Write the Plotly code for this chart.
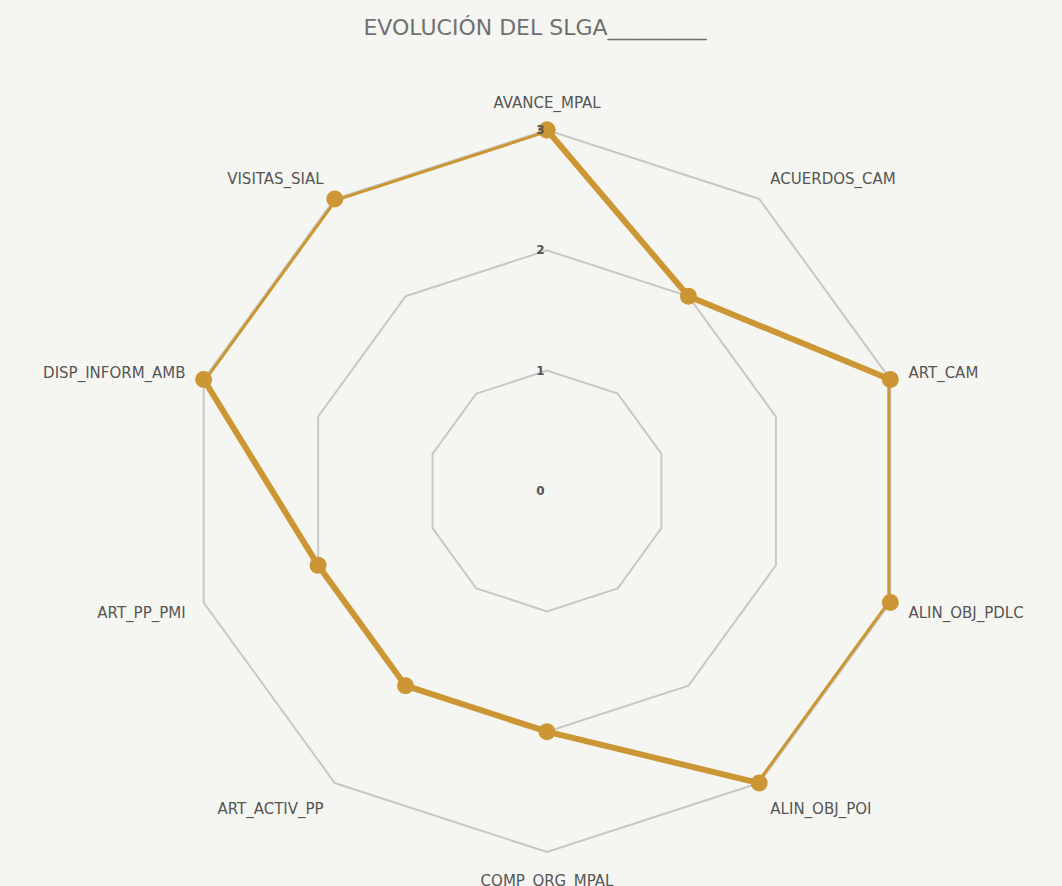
import plotly.graph_objects as go

categories = ["AVANCE_MPAL", "ACUERDOS_CAM", "ART_CAM", "ALIN_OBJ_PDLC", "ALIN_OBJ_POI",
              "COMP_ORG_MPAL", "ART_ACTIV_PP", "ART_PP_PMI", "DISP_INFORM_AMB", "VISITAS_SIAL"]
values = [3, 2, 3, 3, 3, 2, 2, 2, 3, 3]
radial_ticks = [0, 1, 2, 3]
title_text = "EVOLUCIÓN DEL SLGA_________"

W, H = 1062, 886
cx, cy, R = 547, 491, 361

line_color = "#CB9633"
grid_color = "#C8C8C8"
bg = "#F5F5F1"
font_family = "DejaVu Sans, sans-serif"

fig = go.Figure()
fig.add_trace(go.Scatterpolar(
    r=values + values[:1],
    theta=categories + categories[:1],
    mode="lines+markers",
    line=dict(color=line_color, width=6),
    marker=dict(color=line_color, size=17),
    showlegend=False,
    hoverinfo="r+theta",
))

fig.update_layout(
    width=W, height=H,
    paper_bgcolor=bg, plot_bgcolor=bg,
    margin=dict(l=0, r=0, t=0, b=0),
    title=dict(text=title_text, x=535 / W, xanchor="center", y=1 - 27 / H, yanchor="middle",
               font=dict(family=font_family, size=22, color="#707070")),
    font=dict(family=font_family),
    polar=dict(
        bgcolor=bg,
        gridshape="linear",
        domain=dict(x=[(cx - R) / W, (cx + R) / W],
                    y=[(H - cy - R) / H, (H - cy + R) / H]),
        radialaxis=dict(
            range=[0, 3],
            tickvals=radial_ticks,
            ticktext=[str(t) for t in radial_ticks],
            angle=90,
            tickangle=90,
            side="counterclockwise",
            showline=False,
            ticks="",
            showgrid=True,
            gridcolor=grid_color,
            gridwidth=2,
            layer="above traces",
            tickfont=dict(size=12, color="#555555", family=font_family, weight="bold"),
        ),
        angularaxis=dict(
            direction="clockwise",
            rotation=90,
            showgrid=False,
            showline=True,
            linecolor=grid_color,
            linewidth=2,
            layer="below traces",
            ticks="outside",
            ticklen=15,
            tickcolor="rgba(0,0,0,0)",
            tickfont=dict(size=15, color="#555555", family=font_family),
        ),
    ),
)

fig.write_html("out.html", config={"displayModeBar": False},
               post_script="document.body.style.margin='0';")
